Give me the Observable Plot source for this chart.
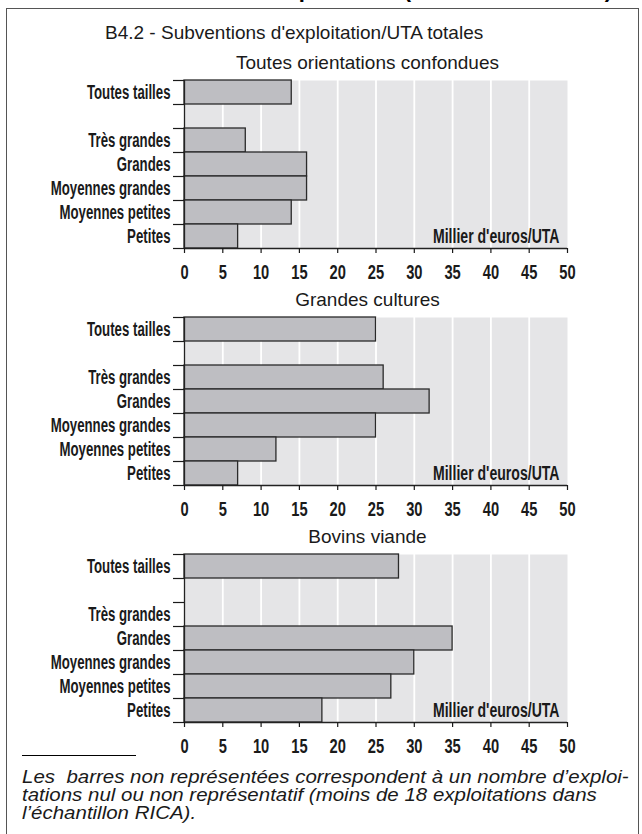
<!DOCTYPE html>
<html><head><meta charset="utf-8">
<script src="https://cdn.jsdelivr.net/npm/d3@7"></script>
<script src="https://cdn.jsdelivr.net/npm/@observablehq/plot@0.6"></script>
<style>
body{margin:0;background:#fff;width:642px;height:834px;overflow:hidden;position:relative;font-family:"Liberation Sans",Arial,sans-serif;color:#1a1a1a;}
#frame{position:absolute;left:6px;top:8px;width:633px;height:900px;border:1.5px solid #555;box-sizing:border-box;}
#header{position:absolute;left:0;top:0;width:642px;height:8px;overflow:hidden;}
#header span{position:absolute;right:30px;top:-23px;font:bold 22px "Liberation Sans",Arial,sans-serif;white-space:nowrap;color:#000;}
.abs{position:absolute;white-space:nowrap;}
#title{left:105px;top:21px;font-size:19px;line-height:24px;}
.ptitle{position:absolute;left:176px;width:383px;text-align:center;font-size:19px;line-height:24px;}
.panel{position:absolute;left:0;}
#rule{position:absolute;left:22px;top:755px;width:114px;height:0;border-top:1px solid #000;}
.noteline{position:absolute;left:22px;white-space:nowrap;font-style:italic;font-size:17.5px;line-height:18px;transform:scaleX(1.17);transform-origin:0 50%;}
</style></head>
<body>
<div id="header"><span id="headerText"></span></div>
<div id="frame"></div>
<div id="title" class="abs"></div>
<div id="charts"></div>
<div id="rule"></div>
<div id="note"></div>
<script>
// ---- data ----
const headerText = "B4 - Subventions d'exploitation (en milliers d'euros)";
const chartTitle = "B4.2 - Subventions d'exploitation/UTA totales";
const categories = ["Toutes tailles", "Très grandes", "Grandes", "Moyennes grandes", "Moyennes petites", "Petites"];
const panelTitles = ["Toutes orientations confondues", "Grandes cultures", "Bovins viande"];
const valuesToutes = [14, 8, 16, 16, 14, 7];
const valuesGrandesCultures = [25, 26, 32, 25, 12, 7];
const valuesBovinsViande = [28, null, 35, 30, 27, 18];
const xTicks = [0, 5, 10, 15, 20, 25, 30, 35, 40, 45, 50];
const gridTicks = [5, 10, 15, 20, 25, 30, 35, 40, 45];
const unitLabel = "Millier d'euros/UTA";
const noteLines = [
  "Les  barres non représentées correspondent à un nombre d’exploi-",
  "tations nul ou non représentatif (moins de 18 exploitations dans",
  "l’échantillon RICA)."
];

document.getElementById("headerText").textContent = headerText;
document.getElementById("title").textContent = chartTitle;
const note = document.getElementById("note");
noteLines.forEach((s, i) => {
  const d = document.createElement("div");
  d.className = "noteline";
  d.style.top = (768 + i * 18) + "px";
  d.innerHTML = s.replace(/  /g, " &nbsp;");
  note.appendChild(d);
});

const panelTops = [80, 316.7, 553.5];
const titleTops = [51, 288, 525];
const mTop = 2, mBottom = 44, plotH = 168;
const nRows = 7;

function squeeze(svg, selector, sx) {
  svg.querySelectorAll(selector).forEach(t => {
    if (!t.textContent) return;
    let tr = t.getAttribute("transform");
    if (!tr) {
      const x = t.getAttribute("x") || 0, y = t.getAttribute("y") || 0;
      t.removeAttribute("x"); t.removeAttribute("y");
      tr = `translate(${x},${y})`;
    }
    t.setAttribute("transform", tr + ` scale(${sx},1)`);
  });
}

function panel(values) {
  const rows = categories.map((c, i) => ({cat: c, v: values[i], row: i === 0 ? 0 : i + 1}));
  const bars = rows.filter(d => d.v != null);
  const labelAt = new Map(rows.map(r => [r.row + 0.5, r.cat]));
  const svg = Plot.plot({
    width: 642,
    height: plotH + mTop + mBottom,
    marginLeft: 184, marginRight: 75, marginTop: mTop, marginBottom: mBottom,
    style: {fontFamily: '"Liberation Sans", Arial, sans-serif', fontSize: "21px", fontWeight: "bold", color: "#1a1a1a", background: "transparent", overflow: "visible"},
    x: {domain: [0, 50]},
    y: {domain: [0, nRows], reverse: true},
    marks: [
      Plot.frame({fill: "#e5e5e7", stroke: null}),
      Plot.ruleX(gridTicks, {stroke: "#fff", strokeWidth: 1.8}),
      Plot.rect(bars, {x1: 0, x2: "v", y1: "row", y2: d => d.row + 1, fill: "#bebec2", stroke: "#2a2a2a", strokeWidth: 1.3}),
      Plot.ruleX([0], {stroke: "#222", strokeWidth: 1.3}),
      Plot.ruleY([nRows], {stroke: "#222", strokeWidth: 1.3}),
      Plot.axisY(d3.range(nRows + 1), {tickSize: 11, tickFormat: () => "", label: null, strokeWidth: 1.2}),
      Plot.axisY(rows.map(r => r.row + 0.5), {tickSize: 0, tickPadding: 14, tickFormat: y => labelAt.get(y), label: null}),
      Plot.axisX(xTicks, {tickSize: 5, tickPadding: 11, label: null, strokeWidth: 1.2}),
      Plot.text([unitLabel], {frameAnchor: "bottom-right", dx: -8, dy: -6, textAnchor: "end", lineAnchor: "bottom"})
    ]
  });
  squeeze(svg, 'g[aria-label="y-axis tick label"] text', 0.63);
  squeeze(svg, 'g[aria-label="x-axis tick label"] text', 0.7);
  squeeze(svg, 'g[aria-label="text"] text', 0.67);
  return svg;
}

const allValues = [valuesToutes, valuesGrandesCultures, valuesBovinsViande];
const charts = document.getElementById("charts");
allValues.forEach((vals, i) => {
  const t = document.createElement("div");
  t.className = "ptitle";
  t.style.top = titleTops[i] + "px";
  t.textContent = panelTitles[i];
  charts.appendChild(t);
  const wrap = document.createElement("div");
  wrap.className = "panel";
  wrap.style.top = (panelTops[i] - mTop) + "px";
  wrap.appendChild(panel(vals));
  charts.appendChild(wrap);
});
</script>
</body></html>
